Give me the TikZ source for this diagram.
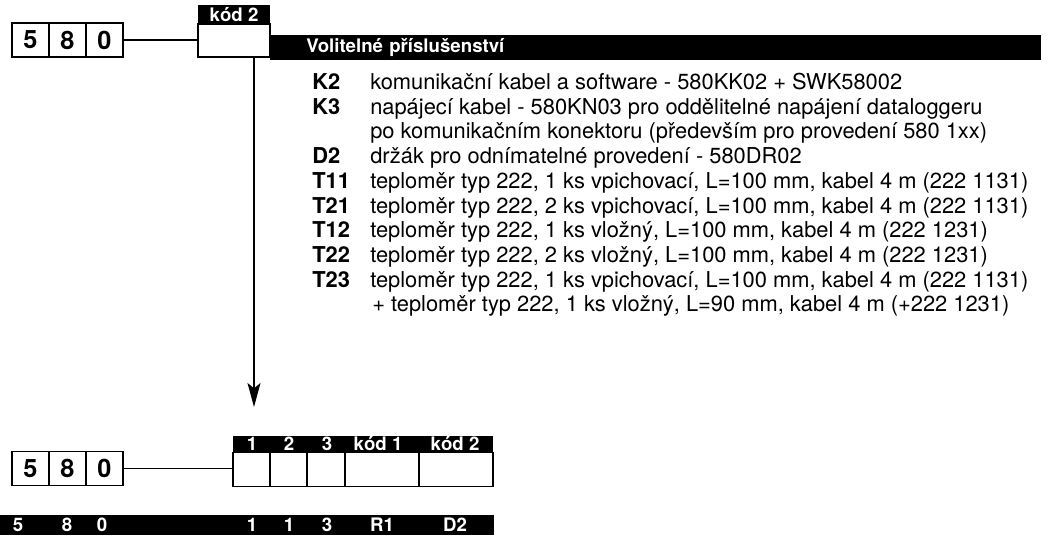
\documentclass[tikz,border=0pt]{standalone}
\usepackage{fontspec}
\setmainfont{TeX Gyre Heros}
\usetikzlibrary{arrows.meta,positioning}

\begin{document}
\begin{tikzpicture}[x=0.75pt,y=-0.75pt]
    \tikzset{digit/.style={draw, line width=0.8pt, inner sep=0pt, minimum width=27.75pt, minimum height=25.5pt,
                font=\fontsize{19}{19}\selectfont\bfseries},
            cell/.style={draw, line width=0.8pt, inner sep=0pt, minimum height=26pt},
            head/.style={fill=black, text=white, inner sep=0pt, minimum height=12pt,
                font=\fontsize{14}{14}\selectfont\bfseries},
            invtxt/.style={text=white, inner sep=0pt, font=\fontsize{14}{14}\selectfont\bfseries},
            desc/.style={anchor=base west, inner sep=0pt, font=\fontsize{16.4}{16.4}\selectfont},
            code/.style={desc, font=\fontsize{16.4}{16.4}\selectfont\bfseries}}

    \useasboundingbox (0,0) rectangle (1048,539);

    \node[digit] (t5) at (30.5,40) {5};
    \node[digit] (t8) at (67.5,40) {8};
    \node[digit] (t0) at (104.5,40) {0};
    \node[head, minimum width=54pt, minimum height=14.25pt] (tkh) at (234,14.5) {kód 2};
    \node[cell, minimum width=54pt, minimum height=24.75pt] (tk2) at (234,40.5) {};
    \draw[line width=0.8pt] (t0.east) -- (t0.east -| tk2.west);

    \node[fill=black, text=white, anchor=west, inner xsep=27pt, inner ysep=0pt, minimum height=18.75pt,
        text width=524pt, font=\fontsize{14}{14}\selectfont\bfseries] (opt) at (270,47.5) {Volitelné příslušenství};

    \node[code] (k2) at (312,89.5) {K2};
    \node[desc] (k2t) at (370,89.5) {komunikační kabel a software - 580KK02 + SWK58002};
    \node[code] (k3) at (312,114.2) {K3};
    \node[desc] (k3t) at (370,114.2) {napájecí kabel - 580KN03 pro oddělitelné napájení dataloggeru};
    \node[desc] (k3u) at (370,138.9) {po komunikačním konektoru (především pro provedení 580 1xx)};
    \node[code] (d2) at (312,163.6) {D2};
    \node[desc] (d2t) at (370,163.6) {držák pro odnímatelné provedení - 580DR02};
    \node[code] (t11) at (312,188.3) {T11};
    \node[desc] (t11t) at (370,188.3) {teploměr typ 222, 1 ks vpichovací, L=100 mm, kabel 4 m (222 1131)};
    \node[code] (t21) at (312,213) {T21};
    \node[desc] (t21t) at (370,213) {teploměr typ 222, 2 ks vpichovací, L=100 mm, kabel 4 m (222 1131)};
    \node[code] (t12) at (312,237.7) {T12};
    \node[desc] (t12t) at (370,237.7) {teploměr typ 222, 1 ks vložný, L=100 mm, kabel 4 m (222 1231)};
    \node[code] (t22) at (312,262.4) {T22};
    \node[desc] (t22t) at (370,262.4) {teploměr typ 222, 2 ks vložný, L=100 mm, kabel 4 m (222 1231)};
    \node[code] (t23) at (312,287.1) {T23};
    \node[desc] (t23t) at (370,287.1) {teploměr typ 222, 1 ks vpichovací, L=100 mm, kabel 4 m (222 1131)};
    \node[desc] (t23u) at (372,311.8) {+ teploměr typ 222, 1 ks vložný, L=90 mm, kabel 4 m (+222 1231)};

    \coordinate (tip) at (254,407);
    \draw[line width=1pt, -{Stealth[length=18pt, width=9.75pt, inset=4pt]}] (tk2.south -| tip) -- (tip);

    \node[digit] (b5) at (30.5,468.5) {5};
    \node[digit] (b8) at (67.5,468.5) {8};
    \node[digit] (b0) at (104.5,468.5) {0};
    \node[cell, minimum width=27.75pt] (c1) at (251.5,469.5) {};
    \node[cell, minimum width=27.75pt] (c2) at (288.5,469.5) {};
    \node[cell, minimum width=28.5pt] (c3) at (326,469.5) {};
    \node[cell, minimum width=55.5pt] (c4) at (382,469.5) {};
    \node[cell, minimum width=55.5pt] (c5) at (456,469.5) {};
    \node[head, minimum width=195pt] (hdr) at (363,444) {};
    \node[invtxt] (h1) at (252,444) {1};
    \node[invtxt] (h2) at (289,444) {2};
    \node[invtxt] (h3) at (327,444) {3};
    \node[invtxt] (h4) at (378,444) {kód 1};
    \node[invtxt] (h5) at (455,444) {kód 2};
    \draw[line width=0.8pt] (b0.east) -- (b0.east -| c1.west);

    \node[fill=black, inner sep=0pt, minimum width=370.5pt, minimum height=15pt, anchor=north west] (sum) at (0,515) {};
    \node[invtxt] (s5) at (18,525) {5};
    \node[invtxt] (s8) at (67,525) {8};
    \node[invtxt] (s0) at (102,525) {0};
    \node[invtxt] (s1) at (252,525) {1};
    \node[invtxt] (s2) at (289,525) {1};
    \node[invtxt] (s3) at (327,525) {3};
    \node[invtxt] (s4) at (382,525) {R1};
    \node[invtxt] (s6) at (455,525) {D2};
\end{tikzpicture}
\end{document}
